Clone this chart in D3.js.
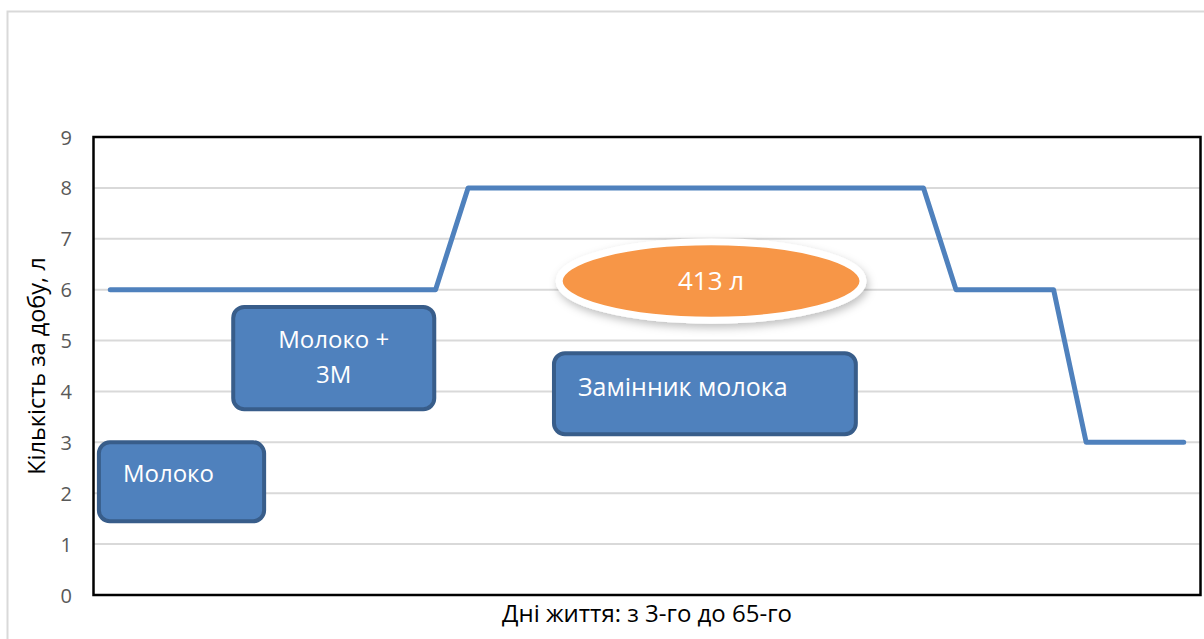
<!DOCTYPE html>
<html>
<head>
<meta charset="utf-8">
<script src="https://cdn.jsdelivr.net/npm/d3@7"></script>
<style>
  body { margin: 0; background: #fff; }
  svg text { font-family: "Open Sans", "Noto Sans", sans-serif; }
</style>
</head>
<body>
<svg id="chart" width="1204" height="639"></svg>
<script>
  // days (categories) - no tick labels are shown on the x axis
  var categories = ["1","2","3","4","5","6","7","8","9","10","11","12","13","14","15","16","17",
                    "18","19","20","21","22","23","24","25","26","27","28","29","30","31","32","33","34"];
  // litres per day
  var litres = [6,6,6,6,6,6,6,6,6,6,6,
                8,8,8,8,8,8,8,8,8,8,8,8,8,8,8,
                6,6,6,6,
                3,3,3,3];
  var yTicks = [0,1,2,3,4,5,6,7,8,9];

  var xTitle = "Дні життя: з 3-го до 65-го";
  var yTitle = "Кількість за добу, л";

  // callout boxes, in data units (x = day index, y = litres)
  var boxes = [
    { lines: ["Молоко"], x0: -0.35, x1: 4.73, y0: 3.0, y1: 1.45, anchor: "start", size: 24, dy: 40 },
    { lines: ["Молоко +", "3М"], x0: 3.78, x1: 9.96, y0: 5.66, y1: 3.65, anchor: "middle", size: 24, dy: 41 },
    { lines: ["Замінник молока"], x0: 13.64, x1: 22.92, y0: 4.75, y1: 3.16, anchor: "start", size: 25, dy: 43 }
  ];
  var total = { label: "413 л", cx: 18.47, cy: 6.17, rx: 4.67, ry: 0.77 };

  var svg = d3.select("#chart");
  var plotLeft = 94, plotRight = 1200, plotTop = 137, plotBottom = 595;

  // outer chart border
  svg.append("rect")
      .attr("x", 7.5).attr("y", 11.5)
      .attr("width", 1210).attr("height", 640)
      .attr("fill", "none").attr("stroke", "#d9d9d9").attr("stroke-width", 2);

  var x = d3.scalePoint().domain(categories).range([plotLeft, plotRight]).padding(0.5);
  var xi = d3.scaleLinear().domain([0, categories.length - 1])
      .range([x(categories[0]), x(categories[categories.length - 1])]);
  var y = d3.scaleLinear().domain([0, 9]).range([plotBottom, plotTop]);

  // gridlines
  svg.append("g")
      .selectAll("line").data(yTicks.slice(1)).enter()
      .append("line")
      .attr("x1", plotLeft).attr("x2", plotRight)
      .attr("y1", function (d) { return y(d); })
      .attr("y2", function (d) { return y(d); })
      .attr("stroke", "#d9d9d9").attr("stroke-width", 2);

  // y axis tick labels
  var yAxis = svg.append("g")
      .attr("transform", "translate(" + (plotLeft - 22) + ",0)")
      .call(d3.axisLeft(y).tickValues(yTicks).tickSize(0).tickPadding(0));
  yAxis.select(".domain").remove();
  yAxis.selectAll("text")
      .attr("fill", "#595959")
      .style("font-size", "20px")
      .attr("dy", "0.35em");

  // plot area frame
  svg.append("rect")
      .attr("x", plotLeft - 0.5).attr("y", plotTop)
      .attr("width", plotRight - plotLeft + 1).attr("height", plotBottom - plotTop)
      .attr("fill", "none").attr("stroke", "#000").attr("stroke-width", 2.5);

  // series line
  var line = d3.line()
      .x(function (d, i) { return x(categories[i]); })
      .y(function (d) { return y(d); });

  svg.append("path")
      .datum(litres)
      .attr("d", line)
      .attr("fill", "none")
      .attr("stroke", "#4f81bd")
      .attr("stroke-width", 5)
      .attr("stroke-linecap", "round")
      .attr("stroke-linejoin", "round");

  // callout boxes
  var box = svg.selectAll("g.box").data(boxes).enter()
      .append("g").attr("class", "box");

  box.append("rect")
      .attr("x", function (d) { return xi(d.x0); })
      .attr("y", function (d) { return y(d.y0); })
      .attr("width", function (d) { return xi(d.x1) - xi(d.x0); })
      .attr("height", function (d) { return y(d.y1) - y(d.y0); })
      .attr("rx", 11).attr("ry", 11)
      .attr("fill", "#4f81bd")
      .attr("stroke", "#385d8a")
      .attr("stroke-width", 4);

  box.each(function (d) {
    var g = d3.select(this);
    var bx0 = xi(d.x0), bx1 = xi(d.x1), by0 = y(d.y0);
    var tx = d.anchor === "middle" ? (bx0 + bx1) / 2 : bx0 + 24;
    d.lines.forEach(function (t, k) {
      g.append("text")
          .attr("x", tx)
          .attr("y", by0 + d.dy + k * 35)
          .attr("text-anchor", d.anchor)
          .attr("fill", "#fff")
          .style("font-size", d.size + "px")
          .text(t);
    });
  });

  // total consumption ellipse
  var defs = svg.append("defs");
  var f = defs.append("filter").attr("id", "shadow")
      .attr("x", "-20%").attr("y", "-40%").attr("width", "140%").attr("height", "190%");
  f.append("feDropShadow")
      .attr("dx", 2).attr("dy", 4).attr("stdDeviation", 4)
      .attr("flood-color", "#000").attr("flood-opacity", 0.25);

  var ecx = xi(total.cx), ecy = y(total.cy);
  var erx = xi(total.rx) - xi(0), ery = y(0) - y(total.ry);

  svg.append("ellipse")
      .attr("cx", ecx).attr("cy", ecy)
      .attr("rx", erx).attr("ry", ery)
      .attr("fill", "#f79646")
      .attr("stroke", "#fff")
      .attr("stroke-width", 7)
      .attr("filter", "url(#shadow)");

  svg.append("text")
      .attr("x", ecx).attr("y", ecy + 9)
      .attr("text-anchor", "middle")
      .attr("fill", "#fff")
      .style("font-size", "26px")
      .text(total.label);

  // axis titles
  svg.append("text")
      .attr("x", (plotLeft + plotRight) / 2).attr("y", 622)
      .attr("text-anchor", "middle")
      .attr("fill", "#000")
      .style("font-size", "24px")
      .text(xTitle);

  svg.append("text")
      .attr("transform", "translate(45," + ((plotTop + plotBottom) / 2) + ") rotate(-90)")
      .attr("text-anchor", "middle")
      .attr("fill", "#000")
      .style("font-size", "23.5px")
      .text(yTitle);
</script>
</body>
</html>
